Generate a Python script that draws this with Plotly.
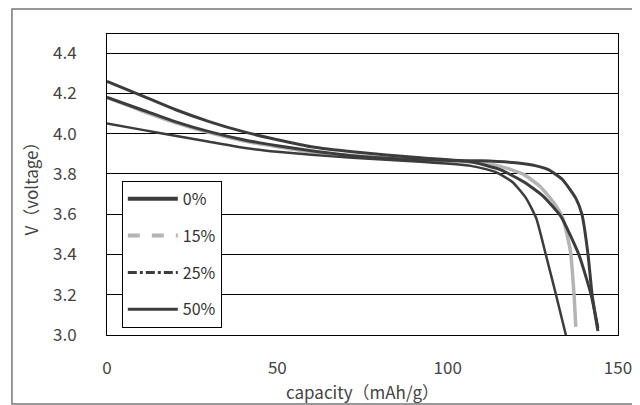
import plotly.graph_objects as go

# ---- data ----
series_names = ["0%", "15%", "25%", "50%"]

cap_0 = [0, 10, 20, 30, 40, 50, 60, 72, 92, 109.7, 120, 126, 129.7, 133.8, 137.6, 139.4, 141.2, 142.4, 144.1]
v_0 = [4.18, 4.12, 4.06, 4.01, 3.97, 3.94, 3.915, 3.89, 3.87, 3.865, 3.855, 3.84, 3.82, 3.77, 3.68, 3.60, 3.40, 3.20, 3.02]

cap_15 = [0, 10, 20, 30, 40, 50, 60, 72, 92, 106, 115, 122, 127, 131, 133.8, 136, 137.1, 137.6]
v_15 = [4.18, 4.115, 4.055, 4.005, 3.965, 3.935, 3.91, 3.89, 3.87, 3.86, 3.84, 3.80, 3.74, 3.66, 3.58, 3.42, 3.20, 3.04]

cap_25 = [0, 10, 20, 30, 40, 50, 60, 72, 92, 106.8, 115.6, 122.4, 128, 133.2, 138.5, 142.1, 144.1]
v_25 = [4.26, 4.19, 4.12, 4.06, 4.01, 3.97, 3.935, 3.91, 3.88, 3.86, 3.82, 3.76, 3.69, 3.59, 3.40, 3.20, 3.035]

cap_50 = [0, 10, 20, 30, 40, 50, 60, 72, 92, 106.8, 114, 119, 123, 126, 128.8, 131.8, 134.7]
v_50 = [4.05, 4.02, 3.99, 3.96, 3.93, 3.91, 3.895, 3.88, 3.86, 3.84, 3.81, 3.76, 3.68, 3.58, 3.40, 3.20, 3.00]

y_ticks = [3.0, 3.2, 3.4, 3.6, 3.8, 4.0, 4.2, 4.4]
y_tick_labels = ["3.0", "3.2", "3.4", "3.6", "3.8", "4.0", "4.2", "4.4"]
x_ticks = [0, 50, 100, 150]
x_tick_labels = ["0", "50", "100", "150"]

DARK = "#3c3c3c"
GRAY = "#b4b4b4"

fig = go.Figure()

curves = [
    (cap_15, v_15, GRAY, 3.5),
    (cap_50, v_50, DARK, 2.5),
    (cap_25, v_25, DARK, 3),
    (cap_0, v_0, DARK, 3),
]
for cx, cy, col, w in curves:
    fig.add_trace(go.Scatter(x=cx, y=cy, mode="lines", showlegend=False,
                             line=dict(color=col, width=w, shape="spline", smoothing=0.5),
                             hoverinfo="skip"))

legend_styles = [(DARK, 4, "solid"), (GRAY, 4, "dash"), (DARK, 3, "dashdot"), (DARK, 3, "solid")]
for i, (name, (col, w, dash)) in enumerate(zip(series_names, legend_styles)):
    fig.add_trace(go.Scatter(x=[None], y=[None], mode="lines", name=name,
                             legendgroup=name,
                             line=dict(color=col, width=w, dash=dash)))

FONT = "Noto Sans CJK JP"

# the page has an 8px body margin, so the figure is sized to fit inside it
fig.update_layout(
    width=632, height=397,
    margin=dict(l=99, r=22, t=26, b=70, autoexpand=False),
    paper_bgcolor="white", plot_bgcolor="white",
    font=dict(family=FONT, size=17, color="#444"),
    legend=dict(x=0.029, y=0.512, xanchor="left", yanchor="top",
                bgcolor="white", bordercolor="black", borderwidth=1,
                font=dict(family=FONT, size=16, color="#333"),
                traceorder="grouped", tracegroupgap=13, itemwidth=50),
    xaxis=dict(range=[0, 150], tickvals=x_ticks, ticktext=x_tick_labels,
               showgrid=False, zeroline=False, showline=True, linecolor="black",
               linewidth=1, mirror=True, ticks="", ticklabelstandoff=18,
               automargin=False,
               title=dict(text="capacity（mAh/g）", standoff=0,
                          font=dict(family=FONT, size=17))),
    yaxis=dict(range=[3.0, 4.495], tickvals=y_ticks, ticktext=y_tick_labels,
               showgrid=True, gridcolor="black", gridwidth=1, zeroline=False,
               showline=True, linecolor="black", linewidth=1, mirror=True,
               ticks="", ticklabelstandoff=26, automargin=False,
               title=dict(text="V（voltage）", standoff=10,
                          font=dict(family=FONT, size=17))),
)

# outer frame of the figure
fig.add_shape(type="rect", xref="paper", yref="paper",
              x0=-0.186, x1=1.033, y0=-0.229, y1=1.083,
              line=dict(color="#777", width=1.5), layer="below")

fig.write_html("out.html")
